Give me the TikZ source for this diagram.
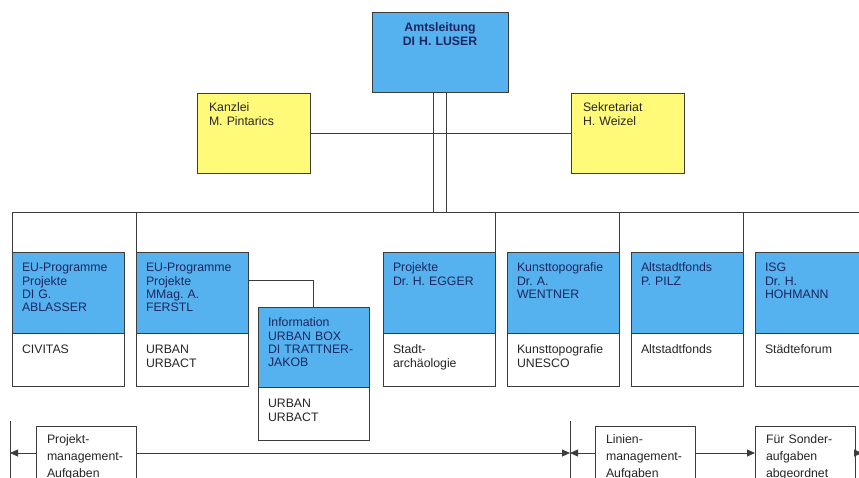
\documentclass[tikz,border=0pt]{standalone}
\usepackage{fontspec}
\setmainfont{Liberation Sans}
\usetikzlibrary{positioning, arrows.meta}
\definecolor{hdblue}{RGB}{86,178,238}
\definecolor{staffyellow}{RGB}{255,250,120}
\definecolor{navy}{RGB}{28,38,96}
\definecolor{linegray}{RGB}{60,60,60}
\frenchspacing

\begin{document}
\begin{tikzpicture}[
    x=1pt, y=1pt,
    node distance=12pt and 12pt,
    every node/.style={font=\fontsize{12.3}{13.4}\selectfont, outer sep=0pt, inner ysep=0pt, line width=0.8pt},
    chief/.style={rectangle, draw=linegray, fill=hdblue, text=navy, font=\bfseries\fontsize{12.3}{14}\selectfont, align=center, text width=116pt, inner xsep=10pt, text height=19.6pt, text depth=60.4pt},
    staff/.style={rectangle, draw=linegray, fill=staffyellow, text=black!85, align=left, text width=89pt, inner xsep=12pt, text height=18.6pt, text depth=61.4pt},
    head/.style={rectangle, draw=linegray, fill=hdblue, text=navy, align=left, text width=92pt, inner xsep=10pt, text height=19.6pt, text depth=61.4pt},
    task/.style={rectangle, draw=linegray, fill=white, text=black!85, align=left, text width=92pt, inner xsep=10pt, text height=20.6pt, text depth=32.4pt},
    field/.style={rectangle, draw=linegray, fill=white, text=black!85, align=left, font=\fontsize{12.3}{17}\selectfont, text width=78pt, inner xsep=11pt, text height=17.6pt, text depth=52pt},
    wire/.style={draw=linegray, line width=0.8pt},
    arrow/.style={wire, -{Triangle[length=8pt, width=7pt]}}
]
\useasboundingbox (0,0) rectangle (859,-477);
\clip (0,0) rectangle (859,-477);

% management and staff
\node[chief, anchor=north west] (amt) at (372,-12) {Amtsleitung\\DI H. LUSER};
\node[staff, anchor=north west] (kanzlei) at (197,-93) {Kanzlei\\M. Pintarics};
\node[staff, anchor=north west] (sekret) at (571,-93) {Sekretariat\\H. Weizel};

% departments
\node[head, anchor=north west] (ablasser) at (12,-252) {EU-Programme\\Projekte\\DI G.\\ABLASSER};
\node[head, right=of ablasser] (ferstl) {EU-Programme\\Projekte\\MMag. A.\\FERSTL};
\node[head, right=135pt of ferstl] (egger) {Projekte\\Dr. H. EGGER};
\node[head, right=of egger] (wentner) {Kunsttopografie\\Dr. A.\\WENTNER};
\node[head, right=of wentner] (pilz) {Altstadtfonds\\P. PILZ};
\node[head, right=of pilz] (hohmann) {ISG\\Dr. H.\\HOHMANN};
\node[head, text width=91pt, text depth=60.4pt, anchor=north west] (info) at (258,-307) {Information\\URBAN BOX\\DI~TRATTNER-\\JAKOB};

\node[task, below=0pt of ablasser] (ablasserT) {CIVITAS};
\node[task, below=0pt of ferstl] (ferstlT) {URBAN\\URBACT};
\node[task, below=0pt of egger] (eggerT) {Stadt-\\archäologie};
\node[task, below=0pt of wentner] (wentnerT) {Kunsttopografie\\UNESCO};
\node[task, below=0pt of pilz] (pilzT) {Altstadtfonds};
\node[task, below=0pt of hohmann] (hohmannT) {Städteforum};
\node[task, text width=91pt, below=0pt of info] (infoT) {URBAN\\URBACT};

% task fields
\node[field, anchor=north west] (prj) at (36,-426) {Projekt-\\management-\\Aufgaben};
\node[field, anchor=north west] (lin) at (595,-426) {Linien-\\management-\\Aufgaben};
\node[field, anchor=north west] (snd) at (755,-426) {Für Sonder-\\aufgaben\\abgeordnet};

% lines
\coordinate (busR) at (880,-212);
\coordinate (dL) at ([xshift=-6.5pt]amt.south);
\coordinate (dR) at ([xshift=6.5pt]amt.south);
\draw[wire] (dL) -- (dL |- busR);
\draw[wire] (dR) -- (dR |- busR);
\draw[wire] (kanzlei) -- (sekret);
\draw[wire] (ablasser.north west) |- (busR);
\foreach \n in {ferstl.north west, egger.north east, wentner.north east, pilz.north east, hohmann.north east}
    \draw[wire] (\n) -- (\n |- busR);
\draw[wire] ([yshift=-28pt]ferstl.north east) -| (info.north);

\coordinate (tkL) at (10,-453);
\coordinate (tkM) at (570,-453);
\coordinate (tkR) at (862,-453);
\foreach \t in {tkL, tkM, tkR}
    \draw[wire] ([yshift=32pt]\t) -- ([yshift=-40pt]\t);
\draw[arrow] (prj.west |- tkL) -- (tkL);
\draw[arrow] (prj.east |- tkM) -- (tkM);
\draw[arrow] (lin.west |- tkM) -- (tkM);
\draw[arrow] (lin.east |- tkM) -- (snd.west |- tkM);
\draw[arrow] (snd.east |- tkR) -- (tkR);
\end{tikzpicture}
\end{document}
